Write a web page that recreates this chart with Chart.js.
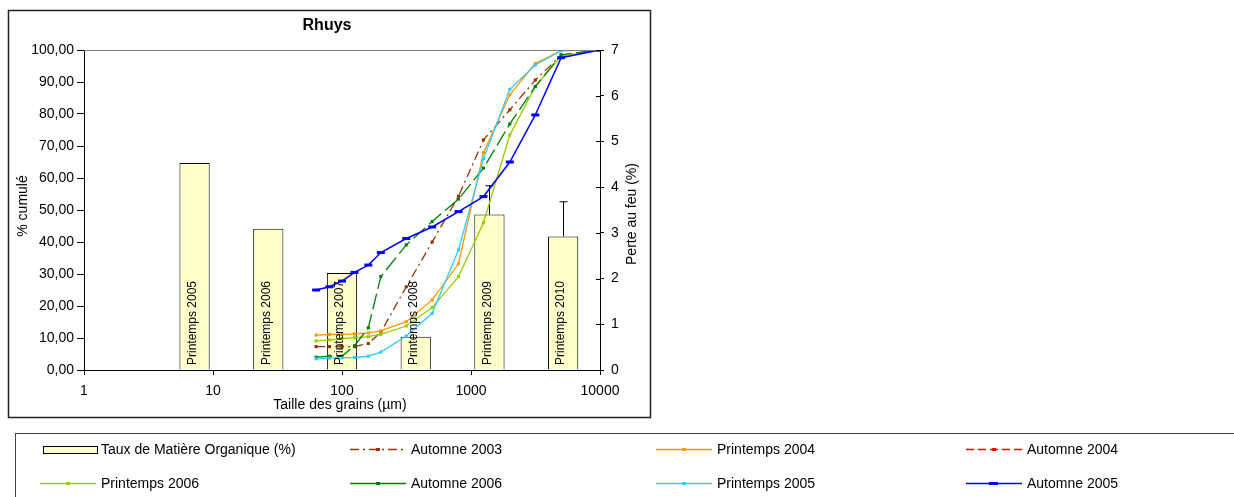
<!DOCTYPE html>
<html>
<head>
<meta charset="utf-8">
<title>Rhuys</title>
<script src="https://cdn.jsdelivr.net/npm/chart.js@4.4.1/dist/chart.umd.min.js"></script>
<style>
  html, body { margin: 0; padding: 0; background: #fff; }
  #wrap { width: 1234px; height: 497px; position: relative; }
</style>
</head>
<body>
<div id="wrap"><canvas id="chart"></canvas></div>
<script>
// tamis (µm)
const sizes = [63, 80, 100, 125, 160, 200, 315, 500, 800, 1250, 2000, 3150, 5000, 10000];

// % cumulé par campagne
const automne2003   = [7.3, 7.3, 7.3, 7.3, 8.3, 11.8, 26.0, 40.0, 54.3, 71.9, 81.3, 90.6, 98.4, 100];
const printemps2004 = [10.9, 11.1, 11.2, 11.25, 11.6, 12.2, 15.1, 21.9, 33.2, 67.9, 86.0, 95.8, 99.8, 100];
const automne2004   = [];
const printemps2006 = [9.1, 9.4, 9.8, 10.1, 10.4, 11.1, 13.75, 19.5, 29.2, 46.0, 73.4, 88.6, 98.1, 100];
const automne2006   = [4.0, 4.3, 4.3, 7.6, 13.2, 29.2, 39.1, 46.4, 53.4, 63.1, 76.9, 88.6, 98.5, 100];
const printemps2005 = [3.5, 3.7, 3.8, 3.9, 4.3, 5.6, 10.6, 17.7, 37.5, 66.1, 87.7, 95.3, 99.8, 100];
const automne2005   = [25.0, 26.0, 27.8, 30.5, 32.8, 36.7, 41.1, 44.7, 49.5, 54.2, 65.0, 79.7, 97.6, 100];

// perte au feu (%), 1ere categorie vide
const barLabels = ['', 'Printemps 2005', 'Printemps 2006', 'Printemps 2007', 'Printemps 2008', 'Printemps 2009', 'Printemps 2010'];
const matiereOrganique = [null, 4.53, 3.09, 2.12, 0.73, 3.40, 2.92];
const erreurPlus = [0, 0, 0, 0, 0, 0.63, 0.76];

const xTicks = [1, 10, 100, 1000, 10000];

const FONT = '"Liberation Sans", Arial, sans-serif';
Chart.defaults.font.family = FONT;
Chart.defaults.font.size = 14;
Chart.defaults.color = '#000';

const toPoints = (vals) => vals.map((v, i) => ({ x: sizes[i], y: v }));

function lineSet(label, values, color, order, extra) {
    return Object.assign({
        type: 'line',
        label,
        data: toPoints(values),
        xAxisID: 'x',
        yAxisID: 'y',
        borderColor: color,
        backgroundColor: color,
        borderWidth: 1.3,
        pointStyle: 'rect',
        pointRadius: 2.2,
        pointBorderWidth: 0,
        pointBackgroundColor: color,
        pointBorderColor: color,
        tension: 0,
        fill: false,
        order,
    }, extra || {});
}

const datasets = [
    {
        type: 'bar',
        label: 'Taux de Matière Organique (%)',
        data: matiereOrganique,
        xAxisID: 'xb',
        yAxisID: 'y2',
        backgroundColor: '#FFFFCC',
        borderColor: '#000',
        borderWidth: 1,
        barPercentage: 0.41,
        categoryPercentage: 1,
        grouped: false,
        order: 20,
    },
    lineSet('Automne 2003', automne2003, '#993300', 7, { borderDash: [9, 4, 2, 4] }),
    lineSet('Printemps 2004', printemps2004, '#FF9900', 6),
    lineSet('Automne 2004', automne2004, '#FF0000', 5, { borderDash: [8, 4] }),
    lineSet('Printemps 2006', printemps2006, '#99CC00', 4),
    lineSet('Automne 2006', automne2006, '#008000', 3, { borderDash: [16, 5], legendSolid: true }),
    lineSet('Printemps 2005', printemps2005, '#33CCFF', 2),
    lineSet('Automne 2005', automne2005, '#0000FF', 1, { borderWidth: 1.5, pointStyle: 'line', pointRadius: 4, pointBorderWidth: 3 }),
];

// titre, cadre, etiquettes des barres, barres d'erreur et legende
const decor = {
    id: 'decor',
    afterDatasetDraw(chart, args) {
        if (args.index !== 0) return;
        const ctx = chart.ctx;
        const y2 = chart.scales.y2;
        const meta = chart.getDatasetMeta(0);
        ctx.save();
        ctx.strokeStyle = '#000';
        ctx.lineWidth = 1;
        meta.data.forEach((bar, i) => {
            if (!erreurPlus[i] || matiereOrganique[i] == null) return;
            const top = y2.getPixelForValue(matiereOrganique[i] + erreurPlus[i]);
            const x = Math.round(bar.x) + 0.5;
            ctx.beginPath();
            ctx.moveTo(x, bar.y);
            ctx.lineTo(x, top);
            ctx.moveTo(x - 4, top);
            ctx.lineTo(x + 4, top);
            ctx.stroke();
        });
        ctx.restore();
    },
    afterDatasetsDraw(chart) {
        const ctx = chart.ctx;
        const a = chart.chartArea;
        const meta = chart.getDatasetMeta(0);
        ctx.save();
        ctx.font = '12px ' + FONT;
        ctx.fillStyle = '#000';
        ctx.textAlign = 'left';
        ctx.textBaseline = 'middle';
        meta.data.forEach((bar, i) => {
            if (!barLabels[i]) return;
            ctx.save();
            ctx.translate(bar.x - 2, a.bottom - 5);
            ctx.rotate(-Math.PI / 2);
            ctx.fillText(barLabels[i], 0, 0);
            ctx.restore();
        });
        ctx.restore();
    },
    afterDraw(chart) {
        const ctx = chart.ctx;
        const a = chart.chartArea;
        ctx.save();

        // bord haut de la zone de tracé
        ctx.strokeStyle = '#808080';
        ctx.lineWidth = 1;
        ctx.beginPath();
        ctx.moveTo(a.left, a.top + 0.5);
        ctx.lineTo(a.right, a.top + 0.5);
        ctx.stroke();

        // petits traits vers l'intérieur sur l'axe de droite
        const y2 = chart.scales.y2;
        ctx.strokeStyle = '#000';
        ctx.beginPath();
        y2.ticks.forEach(t => {
            const y = Math.round(y2.getPixelForValue(t.value)) + 0.5;
            ctx.moveTo(a.right - 4, y);
            ctx.lineTo(a.right, y);
        });
        ctx.stroke();

        // cadre du graphique
        ctx.strokeStyle = '#222';
        ctx.lineWidth = 1.5;
        ctx.strokeRect(8.5, 10.5, 642, 407);

        // titres
        ctx.fillStyle = '#000';
        ctx.textAlign = 'center';
        ctx.textBaseline = 'middle';
        ctx.font = 'bold 16px ' + FONT;
        ctx.fillText('Rhuys', 327, 26);
        ctx.font = '14px ' + FONT;
        ctx.fillText('Taille des grains (µm)', 340, 405);
        ctx.save();
        ctx.translate(23, 206);
        ctx.rotate(-Math.PI / 2);
        ctx.fillText('% cumulé', 0, 0);
        ctx.restore();
        ctx.save();
        ctx.translate(632, 214);
        ctx.rotate(-Math.PI / 2);
        ctx.fillText('Perte au feu (%)', 0, 0);
        ctx.restore();

        // legende
        ctx.strokeStyle = '#444';
        ctx.lineWidth = 1;
        ctx.strokeRect(15.5, 433.5, 1240, 80);
        const colX = [40, 350, 656, 966];
        const rowY = [449, 483];
        ctx.textAlign = 'left';
        ctx.font = '14px ' + FONT;
        chart.data.datasets.forEach((ds, i) => {
            const x0 = colX[i % 4];
            const y = rowY[Math.floor(i / 4)];
            if (ds.type === 'bar') {
                ctx.fillStyle = ds.backgroundColor;
                ctx.fillRect(x0 + 3, y - 3, 54, 7);
                ctx.strokeStyle = '#000';
                ctx.strokeRect(x0 + 3.5, y - 2.5, 54, 7);
            } else {
                ctx.strokeStyle = ds.borderColor;
                ctx.lineWidth = 1.5;
                ctx.setLineDash(ds.legendSolid ? [] : (ds.borderDash || []));
                ctx.beginPath();
                ctx.moveTo(x0, y + 0.5);
                ctx.lineTo(x0 + 56, y + 0.5);
                ctx.stroke();
                ctx.setLineDash([]);
                ctx.fillStyle = ds.borderColor;
                if (ds.pointStyle === 'line') ctx.fillRect(x0 + 23, y - 1, 9, 3);
                else ctx.fillRect(x0 + 26, y - 1, 4, 3);
            }
            ctx.fillStyle = '#000';
            ctx.fillText(ds.label, x0 + 61, y + 1);
        });
        ctx.restore();
    },
};

new Chart(document.getElementById('chart'), {
    type: 'line',
    data: { labels: barLabels, datasets },
    options: {
        responsive: true,
        maintainAspectRatio: false,
        animation: false,
        layout: { padding: { left: 10, top: 50, right: 594, bottom: 97 } },
        plugins: {
            legend: { display: false },
            tooltip: { enabled: false },
            title: { display: false },
        },
        scales: {
            x: {
                type: 'logarithmic',
                position: 'bottom',
                min: 1,
                max: 10000,
                offset: false,
                afterBuildTicks: (s) => { s.ticks = xTicks.map(v => ({ value: v })); },
                afterFit: (s) => { s.height = 30; },
                ticks: { callback: (v) => String(v), padding: 8, maxRotation: 0, autoSkip: false },
                grid: { drawOnChartArea: false, offset: false, tickLength: 5, color: '#000' },
                border: { color: '#000', width: 1 },
            },
            xb: {
                type: 'category',
                display: false,
                offset: true,
            },
            y: {
                position: 'left',
                min: 0,
                max: 100,
                afterFit: (s) => { s.width = 74; },
                ticks: { stepSize: 10, padding: 3, callback: (v) => v.toFixed(2).replace('.', ',') },
                grid: { drawOnChartArea: false, tickLength: 7, color: '#000' },
                border: { color: '#000', width: 1 },
            },
            y2: {
                position: 'right',
                min: 0,
                max: 7,
                afterFit: (s) => { s.width = 40; },
                ticks: { stepSize: 1, padding: 7 },
                grid: { drawOnChartArea: false, tickLength: 4, color: '#000' },
                border: { color: '#000', width: 1 },
            },
        },
    },
    plugins: [decor],
});
</script>
</body>
</html>
